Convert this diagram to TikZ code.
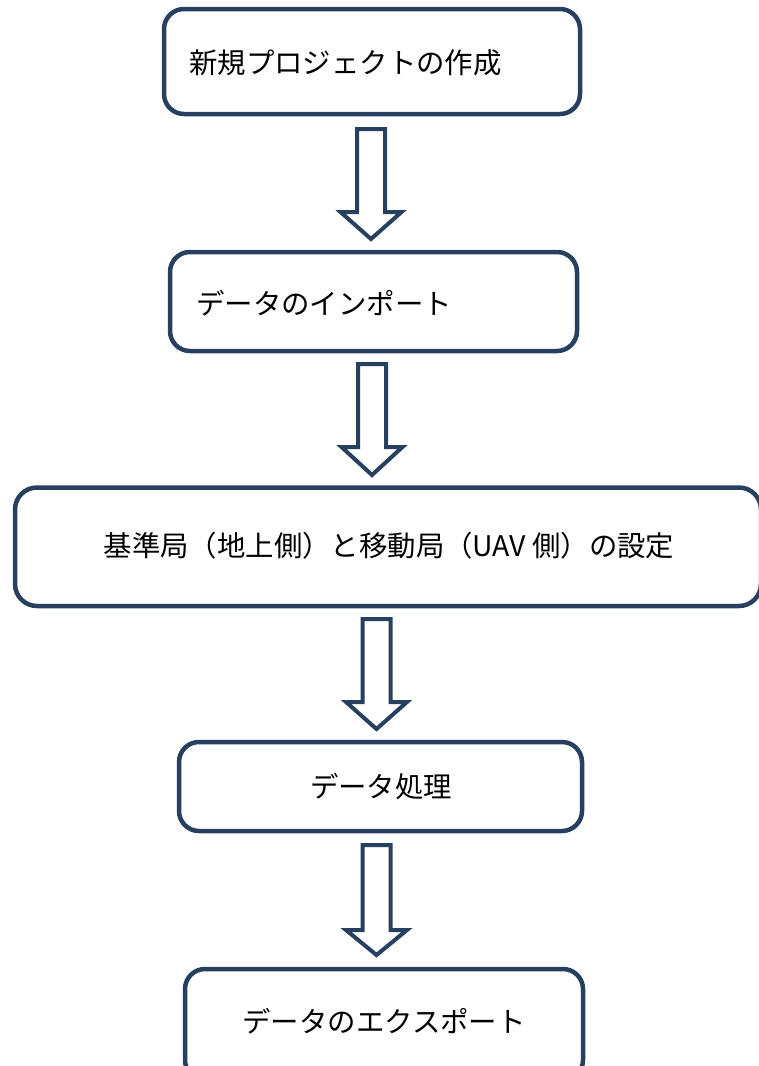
\documentclass[tikz,border=0pt]{standalone}
\usepackage{fontspec}
\newfontfamily\jp{Noto Sans CJK JP}
\definecolor{navy}{RGB}{39,64,96}
\newcommand\blkarrow[4]{% cx, top, head start, tip
  \draw[blockarrow] (#1-14,#2) -- (#1+14,#2) -- (#1+14,#3) -- (#1+30.5,#3) -- (#1,#4)
    -- (#1-30.5,#3) -- (#1-14,#3) -- cycle;}
\begin{document}
\begin{tikzpicture}[x=1pt,y=-1pt,
  box/.style={draw=navy,line width=4.5pt,rounded corners=20pt,inner sep=0pt,fill=white},
  lbl/.style={font=\jp\fontsize{28.4}{34}\selectfont,inner sep=0pt,anchor=base},
  blockarrow/.style={draw=navy,line width=4pt,fill=white,line join=miter}]
\useasboundingbox[fill=white] (0,0) rectangle (759,1066);
% boxes
\node[box,minimum width=416pt,minimum height=105pt] (b1) at (372,61.5) {};
\node[box,minimum width=407pt,minimum height=99pt] (b2) at (373.5,301.5) {};
\node[box,minimum width=746pt,minimum height=118.5pt,rounded corners=22pt] (b3) at (388,546.75) {};
\node[box,minimum width=403pt,minimum height=89pt] (b4) at (380.5,786.5) {};
\node[box,minimum width=398pt,minimum height=111pt] (b5) at (384,1024.5) {};
% labels
\node[lbl,anchor=base west] (t1) at (189,73) {新規プロジェクトの作成};
\node[lbl,anchor=base west] (t2) at (196,314) {データのインポート};
\node[lbl] (t3) at (389,556) {基準局（地上側）と移動局（UAV 側）の設定};
\node[lbl] (t4) at (381,797) {データ処理};
\node[lbl] (t5) at (384,1032) {データのエクスポート};
% block arrows
\blkarrow{371}{129}{212}{239}
\blkarrow{372}{364}{447}{475}
\blkarrow{376.5}{619}{702}{729}
\blkarrow{376.5}{845}{930}{955}
\end{tikzpicture}
\end{document}
